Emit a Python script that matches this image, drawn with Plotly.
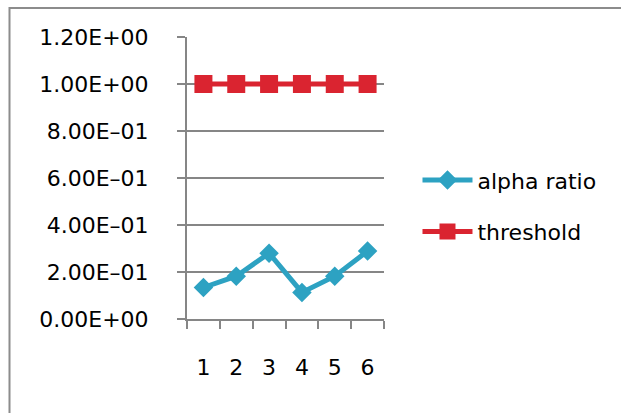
import plotly.graph_objects as go

categories = ["1", "2", "3", "4", "5", "6"]
alpha_ratio = [0.134, 0.182, 0.280, 0.113, 0.182, 0.289]
threshold = [1.0, 1.0, 1.0, 1.0, 1.0, 1.0]
y_ticks = [0.0, 0.2, 0.4, 0.6, 0.8, 1.0, 1.2]
y_labels = [f"{v:.2E}".replace("-", "\u2013") for v in y_ticks]

FONT = "DejaVu Sans"
FS = 22
fig = go.Figure()
fig.add_trace(go.Scatter(x=categories, y=alpha_ratio, name="alpha ratio", mode="lines+markers",
                         legendgroup="a",
                         line=dict(color="#2DA2C2", width=5),
                         marker=dict(symbol="diamond", size=15, color="#2DA2C2")))
fig.add_trace(go.Scatter(x=categories, y=threshold, name="threshold", mode="lines+markers",
                         legendgroup="t",
                         line=dict(color="#DA2430", width=5),
                         marker=dict(symbol="square", size=18, color="#DA2430")))

fig.update_layout(
    width=621, height=413,
    margin=dict(l=187, r=237, t=37, b=93.5),
    paper_bgcolor="white", plot_bgcolor="white",
    font=dict(family=FONT, size=FS, color="black"),
    showlegend=True,
    legend=dict(x=1.17, y=0.40, xanchor="left", yanchor="middle",
                font=dict(size=FS), itemwidth=50, tracegroupgap=20,
                bgcolor="rgba(0,0,0,0)"),
    shapes=[dict(type="rect", xref="paper", yref="paper",
                 x0=(9.5 - 187) / 197, x1=3, y0=-1, y1=(319.5 - 8) / 282.5,
                 line=dict(color="#8C8C8C", width=2), fillcolor="rgba(0,0,0,0)", layer="below")],
)
fig.update_xaxes(type="category", range=[-0.5, 5.5], tickson="boundaries",
                 ticks="outside", ticklen=8, tickcolor="#868686", tickwidth=2,
                 showline=True, linecolor="#868686", linewidth=2, showgrid=False,
                 ticklabelstandoff=28, tickfont=dict(size=FS))
fig.update_yaxes(range=[0, 1.2], tickvals=y_ticks, ticktext=y_labels,
                 ticks="outside", ticklen=8, tickcolor="#868686", tickwidth=2,
                 showline=True, linecolor="#868686", linewidth=2,
                 showgrid=True, gridcolor="#868686", gridwidth=2, zeroline=False,
                 ticklabelstandoff=24, tickfont=dict(size=FS))

fig.write_html("out.html")
